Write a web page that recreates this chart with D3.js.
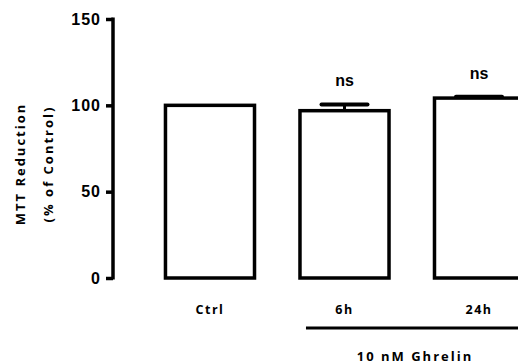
<!DOCTYPE html>
<html>
<head>
<meta charset="utf-8">
<script src="https://cdn.jsdelivr.net/npm/d3@7"></script>
<style>
  body { margin: 0; background: #fff; }
  svg { display: block; }
  text { font-family: "Liberation Sans", Arial, sans-serif; font-weight: bold; fill: #000; }
  text.lbl { font-family: "Open Sans", "Liberation Sans", sans-serif; }
</style>
</head>
<body>
<div id="chart"></div>
<script>
const categories = ['Ctrl', '6h', '24h']
const means = [100, 96.9, 104.2]
const errors = [0, 3.6, 0.8]
const sigLabels = ['', 'ns', 'ns']
const yTicks = [0, 50, 100, 150]

const width = 518
const height = 364

const svg = d3.select('#chart')
  .append('svg')
  .attr('width', width)
  .attr('height', height)

const x = d3.scaleBand().domain(categories).range([120, 569]).padding(0.338)
const y = d3.scaleLinear().domain([0, 150]).range([278, 19])

// y axis
const yAxis = svg.append('g')
  .attr('transform', 'translate(113,0)')
  .call(d3.axisLeft(y).tickValues(yTicks).tickSize(7).tickSizeOuter(0).tickPadding(5))
yAxis.select('.domain').attr('stroke', '#000').attr('stroke-width', 3.5)
  .attr('d', `M0,${y(150) - 1.5}V${y(0) + 1.5}`)
yAxis.selectAll('.tick line').attr('stroke', '#000').attr('stroke-width', 3.5)
yAxis.selectAll('.tick text')
  .style('font-size', '16px')
  .style('font-weight', 'bold')
  .style('letter-spacing', '1px')
  .style('font-family', '"Liberation Sans", Arial, sans-serif')

// bars
svg.selectAll('rect.bar')
  .data(means)
  .join('rect')
  .attr('class', 'bar')
  .attr('x', (d, i) => x(categories[i]))
  .attr('y', d => y(d))
  .attr('width', x.bandwidth())
  .attr('height', d => y(0) - y(d))
  .attr('fill', '#fff')
  .attr('stroke', '#000')
  .attr('stroke-width', 3.5)

// error bars (upper only)
const capW = 46
means.forEach((m, i) => {
  if (!errors[i]) return
  const cx = x(categories[i]) + x.bandwidth() / 2
  svg.append('line')
    .attr('x1', cx).attr('x2', cx)
    .attr('y1', y(m)).attr('y2', y(m + errors[i]))
    .attr('stroke', '#000').attr('stroke-width', 3)
  svg.append('line')
    .attr('x1', cx - capW / 2).attr('x2', cx + capW / 2)
    .attr('y1', y(m + errors[i])).attr('y2', y(m + errors[i]))
    .attr('stroke', '#000').attr('stroke-width', 4)
    .attr('stroke-linecap', 'round')
})

// significance labels
svg.selectAll('text.sig')
  .data(sigLabels)
  .join('text')
  .attr('class', 'sig')
  .attr('x', (d, i) => x(categories[i]) + x.bandwidth() / 2)
  .attr('y', (d, i) => y(means[i] + errors[i]) - 18)
  .attr('text-anchor', 'middle')
  .style('font-size', '16px')
  .text(d => d)

// category labels
svg.selectAll('text.cat')
  .data(categories)
  .join('text')
  .attr('class', 'cat lbl')
  .attr('x', d => x(d) + x.bandwidth() / 2)
  .attr('y', 314)
  .attr('text-anchor', 'middle')
  .style('font-size', '12.5px')
  .style('letter-spacing', '1.5px')
  .text(d => d)

// treatment bracket
svg.append('line')
  .attr('x1', x('6h') + 6).attr('x2', width + 10)
  .attr('y1', 328).attr('y2', 328)
  .attr('stroke', '#000').attr('stroke-width', 3)
svg.append('text')
  .attr('class', 'lbl')
  .attr('x', 415)
  .attr('y', 361)
  .attr('text-anchor', 'middle')
  .style('font-size', '13px')
  .style('letter-spacing', '2px')
  .text('10 nM Ghrelin')

// y axis title
const yTitle = svg.append('text')
  .attr('class', 'lbl')
  .attr('transform', 'translate(25,164) rotate(-90)')
  .attr('text-anchor', 'middle')
  .style('font-size', '13px')
  .style('letter-spacing', '2px')
yTitle.append('tspan').attr('x', 0).attr('dy', 0).text('MTT Reduction')
yTitle.append('tspan').attr('x', 0).attr('dy', 28).text('(% of Control)')
</script>
</body>
</html>
